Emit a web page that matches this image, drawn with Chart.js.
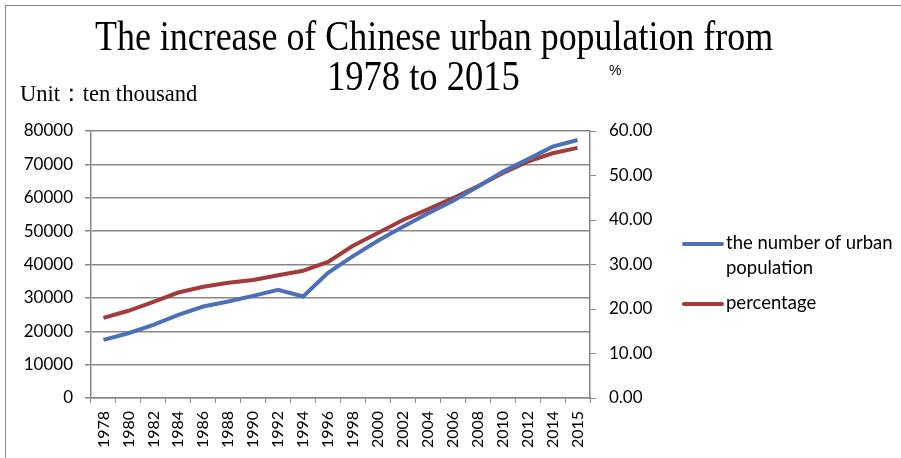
<!DOCTYPE html>
<html>
<head>
<meta charset="utf-8">
<script src="https://cdn.jsdelivr.net/npm/chart.js@4.4.0/dist/chart.umd.min.js"></script>
<style>
  body { margin: 0; background: #fff; }
  #wrap { position: relative; width: 901px; height: 458px; overflow: hidden; }
  #frame { position: absolute; left: 5px; top: 5px; width: 1000px; height: 1000px; border: 1px solid #8c8c8c; }
  canvas { position: absolute; left: 0; top: 0; }
  .txt { position: absolute; white-space: nowrap; color: #000; }
  .serif { font-family: "Liberation Serif", "Times New Roman", serif; transform-origin: left top; }
  .leg { position: absolute; font-family: Lato, "Open Sans", sans-serif; font-size: 18.5px; line-height: 25px; color: #000; }
  .leg i { position: absolute; left: 0; width: 42px; height: 4px; border-radius: 2px; }
</style>
</head>
<body>
<div id="wrap">
  <div id="frame"></div>
  <canvas id="grafico" width="901" height="458"></canvas>
  <div class="txt serif" style="left:95px; top:12px; font-size:42px; transform:scaleX(0.855);">The increase of Chinese urban population from</div>
  <div class="txt serif" style="left:327px; top:52px; font-size:42px; transform:scaleX(0.87);">1978 to 2015</div>
  <div class="txt serif" style="left:20px; top:77px; font-size:24px; transform:scaleX(0.94);">Unit：ten thousand</div>
  <div class="txt" style="left:609px; top:62px; font-family:'Liberation Sans',Arial,sans-serif; font-size:14px;">%</div>
  <div class="leg" style="left:682px; top:230px;"><i style="background:#4B70B8; top:12px;"></i><div style="margin-left:44px;">the number of urban<br>population</div></div>
  <div class="leg" style="left:682px; top:290px;"><i style="background:#A23C3C; top:12px;"></i><div style="margin-left:44px;">percentage</div></div>
</div>
<script>
// dados
const anos = ["1978", "1980", "1982", "1984", "1986", "1988", "1990", "1992", "1994", "1996",
  "1998", "2000", "2002", "2004", "2006", "2008", "2010", "2012", "2014", "2015"];
const populacao = [17400, 19400, 21900, 24900, 27400, 28900, 30600, 32400, 30400, 37500,
  42500, 47100, 51300, 55300, 59000, 63300, 67800, 71500, 75300, 77300];
const percentual = [18.0, 19.6, 21.6, 23.7, 25.0, 25.9, 26.5, 27.6, 28.6, 30.6,
  34.2, 37.1, 40.0, 42.4, 44.9, 47.6, 50.5, 53.1, 55.0, 56.2];
const ticksEsquerda = [0, 10000, 20000, 30000, 40000, 50000, 60000, 70000, 80000];

const CINZA = "#878787";
const FONTE = "Lato, 'Open Sans', sans-serif";

new Chart(document.getElementById("grafico"), {
  type: "line",
  data: {
    labels: anos,
    datasets: [
      {
        label: "the number of urban population",
        data: populacao,
        borderColor: "#4B70B8",
        borderWidth: 4,
        pointRadius: 0,
        tension: 0,
        yAxisID: "y",
      },
      {
        label: "percentage",
        data: percentual,
        borderColor: "#A23C3C",
        borderWidth: 4,
        pointRadius: 0,
        tension: 0,
        yAxisID: "y2",
      },
    ],
  },
  options: {
    responsive: false,
    animation: false,
    layout: { padding: { left: 0, right: 221, top: 131, bottom: 0 } },
    plugins: { legend: { display: false }, tooltip: { enabled: false } },
    scales: {
      x: {
        offset: true,
        grid: { offset: true, drawOnChartArea: false, color: CINZA, tickLength: 5 },
        border: { color: CINZA, width: 1.5 },
        ticks: {
          color: "#000",
          font: { family: FONTE, size: 16 },
          minRotation: 90, maxRotation: 90, autoSkip: false, padding: 8,
        },
        afterFit: (s) => { s.height = 60; },
      },
      y: {
        position: "left",
        min: 0, max: 80000,
        afterBuildTicks: (s) => { s.ticks = ticksEsquerda.map((v) => ({ value: v })); },
        grid: { color: CINZA, lineWidth: 1.5, tickLength: 6 },
        border: { color: CINZA, width: 1.5 },
        ticks: {
          color: "#000",
          font: { family: FONTE, size: 17 },
          padding: 12,
          callback: (v) => String(v),
        },
        afterFit: (s) => { s.width = 91; },
      },
      y2: {
        position: "right",
        min: 0, max: 60,
        grid: { drawOnChartArea: false, color: CINZA, tickLength: 6 },
        border: { color: CINZA, width: 1.5 },
        ticks: {
          stepSize: 10,
          color: "#000",
          font: { family: FONTE, size: 17 },
          padding: 13,
          callback: (v) => Number(v).toFixed(2),
        },
        afterFit: (s) => { s.width = 90; },
      },
    },
  },
});
</script>
</body>
</html>
